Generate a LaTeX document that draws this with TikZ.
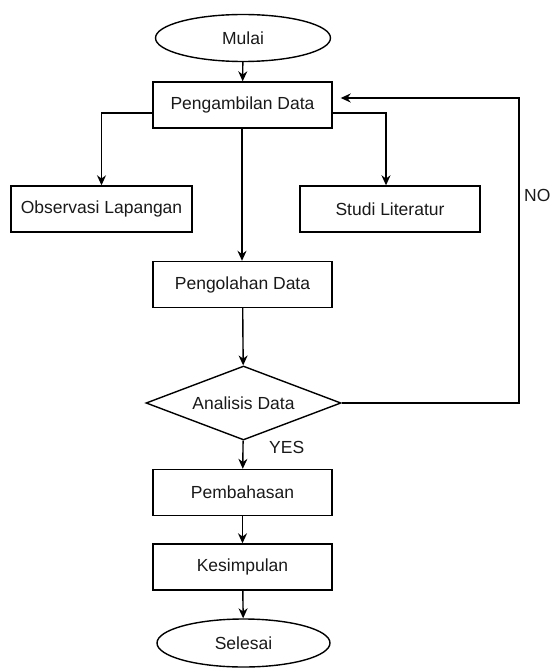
\documentclass[tikz,border=0pt]{standalone}
\usepackage{fontspec}
\setmainfont{Liberation Sans}
\usetikzlibrary{shapes.geometric,arrows.meta,calc}
\begin{document}
\begin{tikzpicture}[x=1pt,y=-1pt,
  every node/.style={font=\fontsize{17.5}{20}\selectfont, text=black!90},
  procbox/.style={draw, line width=1.4pt, minimum width=179pt, minimum height=46pt, inner sep=0pt},
  terminal/.style={draw, ellipse, line width=1.4pt, minimum width=175pt, minimum height=47pt, inner sep=0pt},
  decision/.style={draw, diamond, aspect=2.63, line width=1.4pt, minimum width=195pt, minimum height=74pt, inner sep=0pt},
  conn/.style={line width=1.4pt, -{Stealth[length=10pt,width=9pt]}},
  plain/.style={line width=1.4pt}]
\useasboundingbox (0,0) rectangle (550,668);
\node[terminal] (mulai) at (243,38) {Mulai};
\node[procbox] (ambil) at (242.5,105) {Pengambilan Data};
\node[procbox, minimum width=181pt] (obs) at (101.5,209) {Observasi Lapangan};
\node[procbox, minimum width=180pt] (studi) at (390,209) {Studi Literatur};
\node[procbox] (olah) at (242.5,284.5) {Pengolahan Data};
\node[decision] (analisis) at (243.5,403) {Analisis Data};
\node[procbox] (bahas) at (242.5,492.5) {Pembahasan};
\node[procbox] (simpul) at (242.5,567) {Kesimpulan};
\node[terminal, minimum width=173pt, minimum height=48pt] (selesai) at (243.5,643) {Selesai};
\coordinate (studiturn) at (studi.north -| 386,0);
\coordinate (noright) at (519,403);
\coordinate (notop) at (519,98);
\coordinate (ambilin) at ([yshift=7pt]ambil.east);
\draw[conn] (mulai) -- (ambil);
\draw[conn] ([yshift=-8pt]ambil.west) -| (obs.north);
\draw[conn] ([yshift=-8pt]ambil.east) -| (studiturn);
\draw[conn] (ambil.south -| 242,0) -- (olah.north -| 242,0);
\draw[conn] (olah) -- (analisis);
\draw[conn] (analisis) -- (bahas);
\draw[conn, line width=1.9pt] (bahas) -- (simpul);
\draw[conn] (simpul) -- (selesai);
\draw[conn, shorten >=8pt] (analisis.east) -- (noright) -- (notop) -- (ambilin);
\node[anchor=west, inner sep=0pt] (nolabel) at (524,195) {NO};
\node[anchor=west, inner sep=0pt] (yeslabel) at (269,447) {YES};
\end{tikzpicture}
\end{document}
